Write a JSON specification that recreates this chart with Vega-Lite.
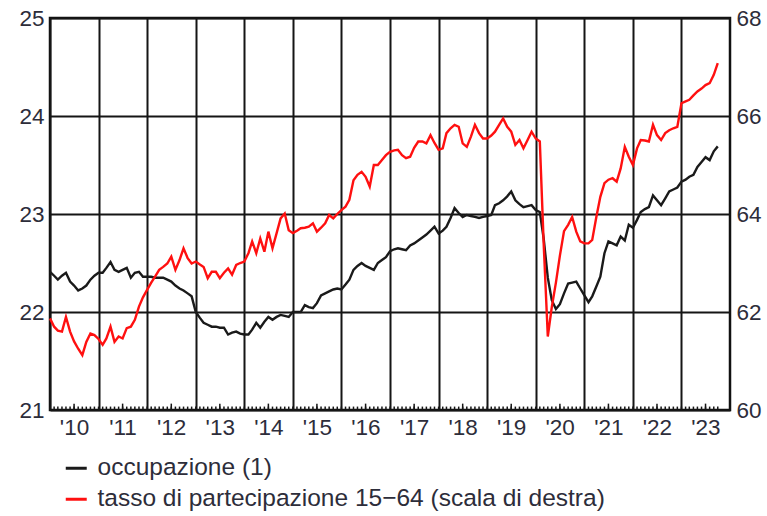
{
  "$schema": "https://vega.github.io/schema/vega-lite/v6.json",
  "width": 680,
  "height": 392,
  "autosize": "none",
  "padding": {"left": 50, "top": 18, "right": 37, "bottom": 106},
  "background": "white",
  "config": {
    "view": {"stroke": "#111111", "strokeWidth": 2.5},
    "font": "Liberation Sans",
    "axis": {"labelFont": "Liberation Sans", "labelColor": "#2d2d3a", "labelFontSize": 22.5, "title": null}
  },
  "data": {"values": [
    {"d":"2010-01","o":22.41,"t":61.87},{"d":"2010-02","o":22.37,"t":61.70},{"d":"2010-03","o":22.33,"t":61.62},{"d":"2010-04","o":22.37,"t":61.60},{"d":"2010-05","o":22.40,"t":61.90},{"d":"2010-06","o":22.31,"t":61.60},{"d":"2010-07","o":22.27,"t":61.40},{"d":"2010-08","o":22.22,"t":61.25},{"d":"2010-09","o":22.24,"t":61.12},{"d":"2010-10","o":22.27,"t":61.39},{"d":"2010-11","o":22.33,"t":61.56},{"d":"2010-12","o":22.37,"t":61.53},
    {"d":"2011-01","o":22.40,"t":61.45},{"d":"2011-02","o":22.40,"t":61.33},{"d":"2011-03","o":22.45,"t":61.46},{"d":"2011-04","o":22.51,"t":61.70},{"d":"2011-05","o":22.43,"t":61.39},{"d":"2011-06","o":22.41,"t":61.50},{"d":"2011-07","o":22.43,"t":61.46},{"d":"2011-08","o":22.45,"t":61.67},{"d":"2011-09","o":22.35,"t":61.70},{"d":"2011-10","o":22.40,"t":61.84},{"d":"2011-11","o":22.41,"t":62.11},{"d":"2011-12","o":22.36,"t":62.30},
    {"d":"2012-01","o":22.36,"t":62.45},{"d":"2012-02","o":22.36,"t":62.60},{"d":"2012-03","o":22.35,"t":62.72},{"d":"2012-04","o":22.35,"t":62.86},{"d":"2012-05","o":22.35,"t":62.92},{"d":"2012-06","o":22.33,"t":62.99},{"d":"2012-07","o":22.31,"t":63.13},{"d":"2012-08","o":22.27,"t":62.86},{"d":"2012-09","o":22.24,"t":63.06},{"d":"2012-10","o":22.22,"t":63.30},{"d":"2012-11","o":22.19,"t":63.10},{"d":"2012-12","o":22.16,"t":62.99},
    {"d":"2013-01","o":22.00,"t":63.03},{"d":"2013-02","o":21.94,"t":62.97},{"d":"2013-03","o":21.89,"t":62.92},{"d":"2013-04","o":21.87,"t":62.69},{"d":"2013-05","o":21.85,"t":62.82},{"d":"2013-06","o":21.85,"t":62.82},{"d":"2013-07","o":21.84,"t":62.69},{"d":"2013-08","o":21.84,"t":62.80},{"d":"2013-09","o":21.77,"t":62.89},{"d":"2013-10","o":21.79,"t":62.76},{"d":"2013-11","o":21.80,"t":62.96},{"d":"2013-12","o":21.78,"t":63.00},
    {"d":"2014-01","o":21.77,"t":63.03},{"d":"2014-02","o":21.77,"t":63.20},{"d":"2014-03","o":21.82,"t":63.44},{"d":"2014-04","o":21.89,"t":63.20},{"d":"2014-05","o":21.84,"t":63.50},{"d":"2014-06","o":21.90,"t":63.23},{"d":"2014-07","o":21.95,"t":63.64},{"d":"2014-08","o":21.92,"t":63.30},{"d":"2014-09","o":21.95,"t":63.61},{"d":"2014-10","o":21.97,"t":63.91},{"d":"2014-11","o":21.96,"t":64.01},{"d":"2014-12","o":21.95,"t":63.67},
    {"d":"2015-01","o":22.00,"t":63.61},{"d":"2015-02","o":22.00,"t":63.66},{"d":"2015-03","o":22.00,"t":63.71},{"d":"2015-04","o":22.07,"t":63.72},{"d":"2015-05","o":22.05,"t":63.74},{"d":"2015-06","o":22.04,"t":63.81},{"d":"2015-07","o":22.09,"t":63.64},{"d":"2015-08","o":22.17,"t":63.72},{"d":"2015-09","o":22.19,"t":63.81},{"d":"2015-10","o":22.21,"t":63.98},{"d":"2015-11","o":22.23,"t":63.91},{"d":"2015-12","o":22.24,"t":64.00},
    {"d":"2016-01","o":22.23,"t":64.08},{"d":"2016-02","o":22.28,"t":64.15},{"d":"2016-03","o":22.33,"t":64.29},{"d":"2016-04","o":22.43,"t":64.69},{"d":"2016-05","o":22.47,"t":64.80},{"d":"2016-06","o":22.50,"t":64.86},{"d":"2016-07","o":22.47,"t":64.76},{"d":"2016-08","o":22.45,"t":64.56},{"d":"2016-09","o":22.43,"t":65.00},{"d":"2016-10","o":22.50,"t":65.00},{"d":"2016-11","o":22.53,"t":65.10},{"d":"2016-12","o":22.56,"t":65.20},
    {"d":"2017-01","o":22.62,"t":65.27},{"d":"2017-02","o":22.64,"t":65.30},{"d":"2017-03","o":22.65,"t":65.31},{"d":"2017-04","o":22.64,"t":65.20},{"d":"2017-05","o":22.63,"t":65.14},{"d":"2017-06","o":22.68,"t":65.17},{"d":"2017-07","o":22.70,"t":65.35},{"d":"2017-08","o":22.73,"t":65.48},{"d":"2017-09","o":22.76,"t":65.48},{"d":"2017-10","o":22.79,"t":65.44},{"d":"2017-11","o":22.83,"t":65.61},{"d":"2017-12","o":22.87,"t":65.45},
    {"d":"2018-01","o":22.80,"t":65.31},{"d":"2018-02","o":22.83,"t":65.34},{"d":"2018-03","o":22.87,"t":65.65},{"d":"2018-04","o":22.96,"t":65.75},{"d":"2018-05","o":23.06,"t":65.82},{"d":"2018-06","o":23.01,"t":65.78},{"d":"2018-07","o":22.97,"t":65.44},{"d":"2018-08","o":22.99,"t":65.37},{"d":"2018-09","o":22.98,"t":65.58},{"d":"2018-10","o":22.97,"t":65.82},{"d":"2018-11","o":22.96,"t":65.65},{"d":"2018-12","o":22.97,"t":65.54},
    {"d":"2019-01","o":22.98,"t":65.54},{"d":"2019-02","o":22.99,"t":65.60},{"d":"2019-03","o":23.09,"t":65.68},{"d":"2019-04","o":23.11,"t":65.82},{"d":"2019-05","o":23.14,"t":65.95},{"d":"2019-06","o":23.18,"t":65.78},{"d":"2019-07","o":23.23,"t":65.68},{"d":"2019-08","o":23.14,"t":65.41},{"d":"2019-09","o":23.10,"t":65.51},{"d":"2019-10","o":23.07,"t":65.34},{"d":"2019-11","o":23.08,"t":65.51},{"d":"2019-12","o":23.09,"t":65.68},
    {"d":"2020-01","o":23.04,"t":65.54},{"d":"2020-02","o":23.02,"t":65.48},{"d":"2020-03","o":22.75,"t":63.40},{"d":"2020-04","o":22.35,"t":61.50},{"d":"2020-05","o":22.12,"t":62.10},{"d":"2020-06","o":22.03,"t":62.60},{"d":"2020-07","o":22.08,"t":63.15},{"d":"2020-08","o":22.19,"t":63.65},{"d":"2020-09","o":22.29,"t":63.78},{"d":"2020-10","o":22.30,"t":63.94},{"d":"2020-11","o":22.31,"t":63.64},{"d":"2020-12","o":22.24,"t":63.44},
    {"d":"2021-01","o":22.17,"t":63.40},{"d":"2021-02","o":22.10,"t":63.40},{"d":"2021-03","o":22.16,"t":63.47},{"d":"2021-04","o":22.26,"t":63.94},{"d":"2021-05","o":22.36,"t":64.35},{"d":"2021-06","o":22.60,"t":64.63},{"d":"2021-07","o":22.72,"t":64.70},{"d":"2021-08","o":22.70,"t":64.73},{"d":"2021-09","o":22.68,"t":64.66},{"d":"2021-10","o":22.77,"t":64.93},{"d":"2021-11","o":22.73,"t":65.37},{"d":"2021-12","o":22.89,"t":65.17},
    {"d":"2022-01","o":22.86,"t":65.00},{"d":"2022-02","o":22.94,"t":65.34},{"d":"2022-03","o":23.02,"t":65.51},{"d":"2022-04","o":23.05,"t":65.50},{"d":"2022-05","o":23.07,"t":65.48},{"d":"2022-06","o":23.19,"t":65.82},{"d":"2022-07","o":23.14,"t":65.61},{"d":"2022-08","o":23.09,"t":65.51},{"d":"2022-09","o":23.16,"t":65.65},{"d":"2022-10","o":23.23,"t":65.71},{"d":"2022-11","o":23.25,"t":65.75},{"d":"2022-12","o":23.27,"t":65.78},
    {"d":"2023-01","o":23.33,"t":66.26},{"d":"2023-02","o":23.35,"t":66.30},{"d":"2023-03","o":23.38,"t":66.33},{"d":"2023-04","o":23.40,"t":66.42},{"d":"2023-05","o":23.48,"t":66.50},{"d":"2023-06","o":23.53,"t":66.56},{"d":"2023-07","o":23.58,"t":66.63},{"d":"2023-08","o":23.55,"t":66.67},{"d":"2023-09","o":23.64,"t":66.84},{"d":"2023-10","o":23.69,"t":67.08}
  ]},
  "encoding": {
    "x": {
      "field": "d", "type": "temporal",
      "scale": {"type": "utc", "nice": false, "domain": [{"year": 2010, "month": 1, "date": 1, "utc": true}, {"year": 2024, "month": 1, "date": 1, "utc": true}]},
      "axis": {
        "values": [
          {"year": 2010, "month": 1, "date": 1, "utc": true},{"year": 2011, "month": 1, "date": 1, "utc": true},{"year": 2012, "month": 1, "date": 1, "utc": true},{"year": 2013, "month": 1, "date": 1, "utc": true},{"year": 2014, "month": 1, "date": 1, "utc": true},{"year": 2015, "month": 1, "date": 1, "utc": true},{"year": 2016, "month": 1, "date": 1, "utc": true},{"year": 2017, "month": 1, "date": 1, "utc": true},{"year": 2018, "month": 1, "date": 1, "utc": true},{"year": 2019, "month": 1, "date": 1, "utc": true},{"year": 2020, "month": 1, "date": 1, "utc": true},{"year": 2021, "month": 1, "date": 1, "utc": true},{"year": 2022, "month": 1, "date": 1, "utc": true},{"year": 2023, "month": 1, "date": 1, "utc": true}
        ],
        "labelExpr": "\"'\" + utcFormat(datum.value, '%y')",
        "grid": true, "gridColor": "#151515", "gridWidth": 2,
        "ticks": false, "domain": false,
        "labelOffset": 24, "labelAlign": "center", "labelFlush": false, "labelOverlap": false, "labelBound": false,
        "labelPadding": 6, "labelFontSize": 22.5
      }
    }
  },
  "layer": [
    {
      "layer": [
        {
          "mark": {"type": "line", "strokeWidth": 2.4},
          "encoding": {
            "y": {
              "field": "o", "type": "quantitative",
              "scale": {"domain": [21, 25], "nice": false, "zero": false},
              "axis": {"orient": "left", "values": [21, 22, 23, 24, 25], "format": "d", "grid": true, "gridColor": "#151515", "gridWidth": 2, "ticks": false, "domain": false, "labelPadding": 6, "labelFontSize": 22.5}
            },
            "color": {
              "datum": "occupazione (1)",
              "scale": {"domain": ["occupazione (1)", "tasso di partecipazione 15−64 (scala di destra)"], "range": ["#1a1a1a", "#ff1010"]},
              "legend": {
                "orient": "none", "legendX": 14, "legendY": 438, "direction": "vertical",
                "title": null, "padding": 0, "symbolType": "stroke", "symbolSize": 440, "symbolStrokeWidth": 3,
                "labelFontSize": 24.5, "labelFont": "Liberation Sans", "labelColor": "#2d2d3a", "labelOffset": 9, "rowPadding": 6, "labelLimit": 0
              }
            }
          }
        },
        {
          "mark": {"type": "rule", "color": "#151515", "strokeWidth": 1.5},
          "encoding": {
            "y": {"datum": 21},
            "y2": {"datum": 21.035}
          }
        },
        {
          "transform": [{"filter": "utcmonth(datum.d) == 6"}],
          "mark": {"type": "rule", "color": "#151515", "strokeWidth": 1.5},
          "encoding": {
            "y": {"datum": 21},
            "y2": {"datum": 21.065}
          }
        }
      ]
    },
    {
      "mark": {"type": "line", "strokeWidth": 2.4},
      "encoding": {
        "y": {
          "field": "t", "type": "quantitative",
          "scale": {"domain": [60, 68], "nice": false, "zero": false},
          "axis": {"orient": "right", "values": [60, 62, 64, 66, 68], "format": "d", "grid": false, "ticks": false, "domain": false, "labelPadding": 6, "labelFontSize": 22.5}
        },
        "color": {"datum": "tasso di partecipazione 15−64 (scala di destra)"}
      }
    }
  ],
  "resolve": {"scale": {"y": "independent"}}
}
